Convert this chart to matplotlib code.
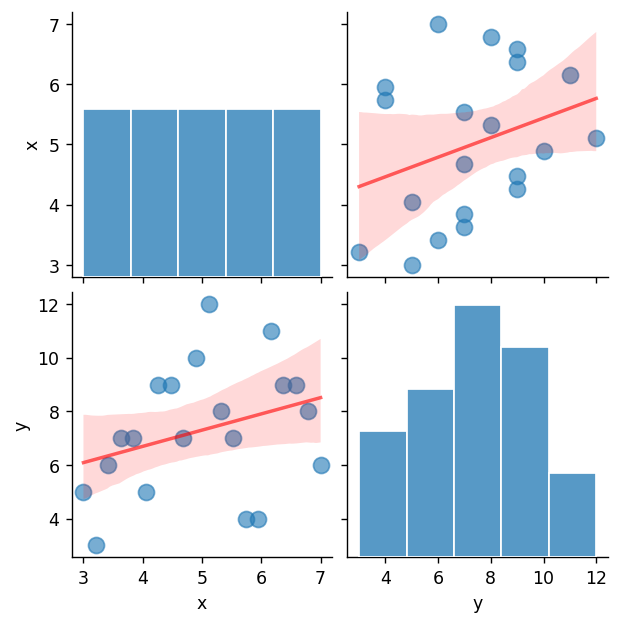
import pandas as pd
import seaborn as sns
import matplotlib.pyplot as plt

x = [3.00, 3.21, 3.42, 3.63, 3.84, 4.05, 4.26, 4.47, 4.68, 4.89,
     5.11, 5.32, 5.53, 5.74, 5.95, 6.16, 6.37, 6.58, 6.79, 7.00]
y = [5, 3, 6, 7, 7, 5, 9, 9, 7, 10,
     12, 8, 7, 4, 4, 11, 9, 9, 8, 6]

df = pd.DataFrame({"x": x, "y": y})

g = sns.pairplot(df, kind="reg",
                 plot_kws={"line_kws": {"color": "red", "alpha": 0.6, "lw": 2},
                           "scatter_kws": {"s": 85, "alpha": 0.6}},
                 diag_kws={"bins": 5, "edgecolor": "white"})
g.fig.set_size_inches(5, 4.96)
g.tight_layout()
g.fig.subplots_adjust(bottom=0.1, top=0.98)
g.savefig("out.png", dpi=125)
